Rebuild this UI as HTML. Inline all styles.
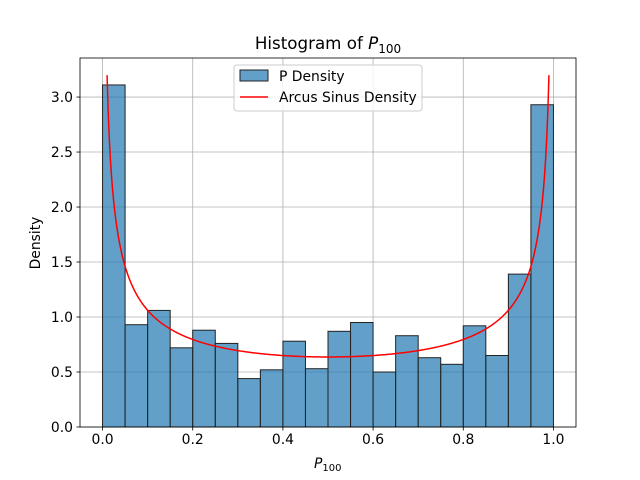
<!DOCTYPE html>
<html><head><meta charset="utf-8"><style>body{margin:0;background:#fff}svg{display:block;font-family:"DejaVu Sans","Liberation Sans",sans-serif}</style></head>
<body>
<svg id="c" width="640" height="480"></svg>
<script>
const binEdgesStart = 0, binWidth = 0.05;
const densities = [3.11,0.93,1.06,0.72,0.88,0.76,0.44,0.52,0.78,0.53,0.87,0.95,0.50,0.83,0.63,0.57,0.92,0.65,1.39,2.93];
const xTicks = [0.0,0.2,0.4,0.6,0.8,1.0];
const xTickLabels = ["0.0","0.2","0.4","0.6","0.8","1.0"];
const yTicks = [0,0.5,1,1.5,2,2.5,3];
const yTickLabels = ["0.0","0.5","1.0","1.5","2.0","2.5","3.0"];
const L=80,R=576,T=58,B=427, xmin=-0.05,xmax=1.05,ymin=0,ymax=3.355;
const X=v=>L+(v-xmin)/(xmax-xmin)*(R-L);
const Y=v=>B-(v-ymin)/(ymax-ymin)*(B-T);
const svg=document.getElementById('c');
const NS='http://www.w3.org/2000/svg';
function mk(t,a,p){const e=document.createElementNS(NS,t);for(const k in a)e.setAttribute(k,a[k]);(p||svg).appendChild(e);return e;}
xTicks.forEach((v,i)=>{
  const g=mk('line',{x1:X(v),x2:X(v),y1:T,y2:B,stroke:'#b0b0b0','stroke-width':0.8});
  
  
  mk('line',{x1:X(v),x2:X(v),y1:B,y2:B+3.5,stroke:'#000','stroke-width':0.8});
  const t=mk('text',{x:X(v),y:B+17,'text-anchor':'middle','font-size':13.9});t.textContent=xTickLabels[i];
  
  
});
yTicks.forEach((v,i)=>{
  const g=mk('line',{x1:L,x2:R,y1:Y(v),y2:Y(v),stroke:'#b0b0b0','stroke-width':0.8});
  
  
  mk('line',{x1:L-3.5,x2:L,y1:Y(v),y2:Y(v),stroke:'#000','stroke-width':0.8});
  const t=mk('text',{x:L-7,y:Y(v)+5,'text-anchor':'end','font-size':13.9});t.textContent=yTickLabels[i];
  
  
});
densities.forEach((d,i)=>{
  const x0=binEdgesStart+i*binWidth;
  const r=mk('rect',{x:X(x0),y:Y(d),width:X(x0+binWidth)-X(x0),height:Y(0)-Y(d),fill:'#1f77b4','fill-opacity':0.7,stroke:'#222','stroke-width':1});
  
  
});
let pts=[];
for(let k=0;k<=400;k++){const x=0.01+0.98*k/400;const y=1/(Math.PI*Math.sqrt(x*(1-x)));pts.push(X(x).toFixed(2)+','+Y(y).toFixed(2));}
const pl=mk('polyline',{points:pts.join(' '),fill:'none',stroke:'red','stroke-width':1.5});


mk('rect',{x:L,y:T,width:R-L,height:B-T,fill:'none',stroke:'#000','stroke-width':0.8});
</script>
<svg width="640" height="480" style="position:absolute;left:0;top:0">
<text x="328" y="49" text-anchor="middle" font-size="16.7">Histogram of <tspan font-style="italic">P</tspan><tspan font-size="12" dy="4">100</tspan></text>
<text x="314" y="468" font-size="13.9"><tspan font-style="italic">P</tspan><tspan font-size="10" dy="3">100</tspan></text>
<text x="40" y="243" font-size="13.9" text-anchor="middle" transform="rotate(-90 40 243)">Density</text>
<g>
<rect x="234" y="65" width="188" height="46" rx="3" fill="#fff" fill-opacity="0.8" stroke="#ccc"/>
<rect x="240" y="70" width="28" height="11" fill="#1f77b4" fill-opacity="0.7" stroke="#222"/>
<text x="279" y="81" font-size="13.9">P Density</text>
<line x1="240" x2="268" y1="97" y2="97" stroke="red" stroke-width="1.5"/>
<text x="279" y="102" font-size="13.9">Arcus Sinus Density</text>
</g>
</svg>
</body></html>
